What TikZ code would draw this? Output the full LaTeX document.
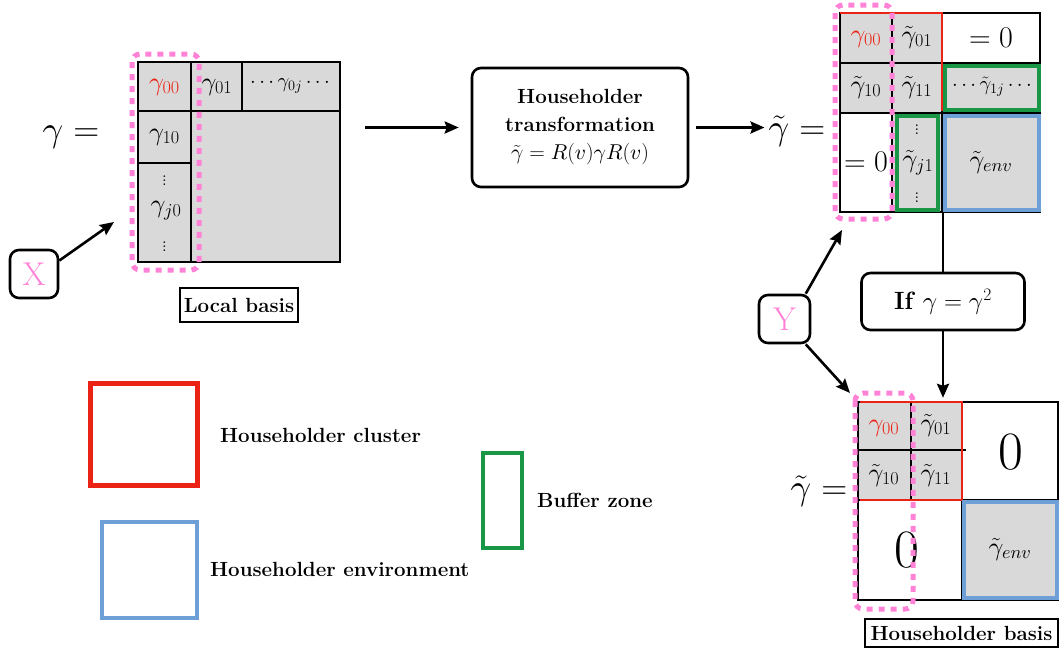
\RequirePackage{fix-cm}
\documentclass[tikz,border=0pt]{standalone}
\DeclareFontShape{OML}{cmm}{m}{it}{<-> cmmi10}{}
\DeclareFontShape{OMS}{cmsy}{m}{n}{<-> cmsy10}{}
\usetikzlibrary{arrows.meta,calc}
\definecolor{pk}{RGB}{255,130,215}
\definecolor{rd}{RGB}{235,35,20}
\definecolor{bl}{RGB}{110,160,215}
\definecolor{gn}{RGB}{25,150,70}
\definecolor{gy}{RGB}{217,217,217}
\begin{document}
\begin{tikzpicture}[x=1pt,y=-1pt,
 mline/.style={line width=2.6pt},
 pinkdot/.style={draw=pk, line width=5pt, dash pattern=on 6pt off 6pt, rounded corners=8pt},
 rbox/.style={draw, line width=2.6pt, rounded corners=9pt, inner sep=0pt},
 lbl/.style={draw, line width=2.6pt, inner sep=0pt, font=\fontsize{20.5}{22}\selectfont\bfseries},
 leg/.style={inner sep=0pt, font=\fontsize{20.5}{22}\selectfont\bfseries},
 ent/.style={font=\fontsize{26}{30}\selectfont, inner sep=0pt},
 sent/.style={font=\fontsize{20.5}{24}\selectfont, inner sep=0pt},
 big/.style={font=\fontsize{36}{40}\selectfont, inner sep=0pt},
 arr/.style={line width=2.6pt, -{Stealth[length=14pt,width=12pt,inset=2pt]}},
]
\useasboundingbox (0,0) rectangle (1060,659);

% ---------- left matrix ----------
\fill[gy] (138,62) rectangle (340,262);
\draw[mline] (138,111) -- (340,111);
\draw[mline] (191,62) -- (191,262);
\draw[mline] (242,62) -- (242,111);
\draw[mline] (138,163) -- (191,163);
\draw[mline] (138,62) rectangle (340,262);
\node[inner sep=0pt, minimum width=202pt, minimum height=200pt] (M1) at (239,162) {};
\node[ent, text=rd] (a00) at (164.5,87) {$\gamma_{00}$};
\node[ent] (a01) at (217,87) {$\gamma_{01}$};
\node[sent] (a0j) at (290,86) {$\cdots\gamma_{0j}\cdots$};
\node[ent] (a10) at (164.5,137) {$\gamma_{10}$};
\node[sent] (ad1) at (164.5,178) {$\vdots$};
\node[ent] (aj0) at (166,211) {$\gamma_{j0}$};
\node[sent] (ad2) at (164.5,244) {$\vdots$};
\draw[pinkdot] (132,54) rectangle (199,270);
\node[big] (g1) at (71,137) {$\gamma =$};

\node[rbox, minimum width=48pt, minimum height=48pt, text=pk, font=\fontsize{33}{36}\selectfont] (X) at (34,274) {X};
\coordinate (xa) at (114,222);
\draw[arr] (X.28) -- (xa);
\node[lbl, minimum width=118pt, minimum height=34pt] (LB) at (239,305) {Local basis};

% ---------- Householder transformation ----------
\node[rbox, minimum width=216pt, minimum height=119pt, align=center, font=\fontsize{20.5}{28}\selectfont] (HT) at (580,127.5) {\textbf{Householder}\\\textbf{transformation}\\{\fontsize{21.5}{28}\selectfont$\tilde\gamma = R(v)\gamma R(v)$}};
\draw[arr, shorten <=25pt, shorten >=12pt] (M1.east |- HT.west) -- (HT.west);

% ---------- top right matrix ----------
\node[big] (g2) at (797,131) {$\tilde\gamma =$};
\draw[arr, shorten <=7pt, shorten >=4pt] (HT.east) -- (HT.east -| g2.west);
\fill[gy] (840,13) rectangle (942,113);
\fill[gy] (942,63) rectangle (1040,212);
\fill[gy] (892,113) rectangle (942,212);
\draw[mline] (892,13) -- (892,212);
\draw[mline] (942,13) -- (942,212);
\draw[mline] (840,63) -- (1040,63);
\draw[mline] (840,113) -- (1040,113);
\draw[mline] (840,13) rectangle (1040,212);
\node[inner sep=0pt, minimum width=200pt, minimum height=199pt] (M2) at (940,112.5) {};
\draw[rd, line width=2.6pt] (840,13) -- (942,13) -- (942,111);
\draw[gn, line width=3.2pt] (945,66) rectangle (1039,110);
\draw[gn, line width=3.2pt] (897,116) rectangle (938,210);
\draw[bl, line width=3.2pt] (945,116) rectangle (1039,210);
\node[ent, text=rd] (b00) at (866,39) {$\gamma_{00}$};
\node[ent] (b01) at (917,37) {$\tilde\gamma_{01}$};
\node[font=\fontsize{30}{32}\selectfont, inner sep=0pt] (b02) at (991,38) {$=0$};
\node[ent] (b10) at (866,87) {$\tilde\gamma_{10}$};
\node[ent] (b11) at (917,87) {$\tilde\gamma_{11}$};
\node[sent] (b1j) at (992,87) {$\cdots\tilde\gamma_{1j}\cdots$};
\node[font=\fontsize{30}{32}\selectfont, inner sep=0pt] (b20) at (866,162) {$=0$};
\node[sent] (bd1) at (917,127) {$\vdots$};
\node[ent] (bj1) at (918,163) {$\tilde\gamma_{j1}$};
\node[sent] (bd2) at (917,195) {$\vdots$};
\node[ent] (benv) at (991,162) {$\tilde\gamma_{env}$};
\draw[pinkdot] (835,5) rectangle (892,219);

% ---------- If box ----------
\node[rbox, minimum width=163pt, minimum height=57pt, font=\fontsize{25}{28}\selectfont] (If) at (943,301.5) {\textbf{If} $\gamma = \gamma^2$};
\draw[mline] (M2.south -| If.north) -- (If.north);

% ---------- Y ----------
\node[rbox, minimum width=51pt, minimum height=48pt, text=pk, font=\fontsize{33}{36}\selectfont] (Y) at (784.5,319) {Y};
\coordinate (ya) at (842,230);
\coordinate (yb) at (850,393);
\draw[arr] (Y.50) -- (ya);
\draw[arr] (Y.-50) -- (yb);

% ---------- bottom right matrix ----------
\node[big] (g3) at (819,491) {$\tilde\gamma =$};
\fill[gy] (858,402) rectangle (962,500);
\fill[gy] (962,500) rectangle (1058,600);
\draw[mline] (911,402) -- (911,500);
\draw[mline] (858,450) -- (966,450);
\draw[mline] (962,402) -- (962,600);
\draw[mline] (858,500) -- (1058,500);
\draw[mline] (858,402) rectangle (1058,600);
\node[inner sep=0pt, minimum width=200pt, minimum height=198pt] (M3) at (958,501) {};
\draw[rd, line width=2.6pt] (860,402) -- (962,402) -- (962,500) -- (860,500);
\draw[bl, line width=3.2pt] (964,502) rectangle (1057,598);
\node[ent, text=rd] (c00) at (884,428) {$\gamma_{00}$};
\node[ent] (c01) at (936,425) {$\tilde\gamma_{01}$};
\node[ent] (c10) at (884,475) {$\tilde\gamma_{10}$};
\node[ent] (c11) at (936,475) {$\tilde\gamma_{11}$};
\node[font=\fontsize{54}{56}\selectfont, inner sep=0pt] (c02) at (1011,452) {$0$};
\node[font=\fontsize{54}{56}\selectfont, inner sep=0pt] (c20) at (907,550) {$0$};
\node[ent] (cenv) at (1010,549) {$\tilde\gamma_{env}$};
\draw[pinkdot] (855,393) rectangle (913,609);
\draw[arr, shorten >=4pt] (If.south) -- (If.south |- M3.north);
\node[lbl, minimum width=193pt, minimum height=28pt] (HB) at (961.5,633) {Householder basis};

% ---------- legend ----------
\draw[rd, line width=5pt] (90,383) rectangle (197,485);
\node[leg, anchor=west] (L1) at (220,435) {Householder cluster};
\draw[bl, line width=4pt] (102,522) rectangle (197,618);
\node[leg, anchor=west] (L2) at (210,569) {Householder environment};
\draw[gn, line width=3.5pt] (483,453) rectangle (522,548);
\node[leg, anchor=west] (L3) at (537,500) {Buffer zone};
\end{tikzpicture}
\end{document}
